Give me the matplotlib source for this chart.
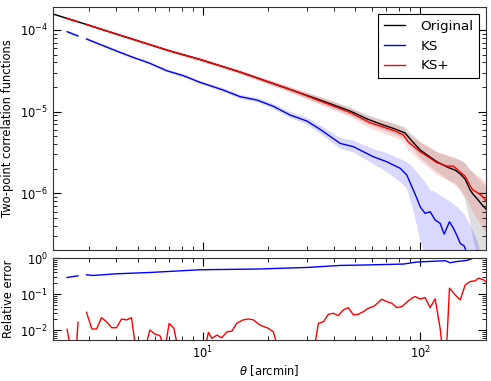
import numpy as np
import matplotlib
matplotlib.use("Agg")
import matplotlib.pyplot as plt

nan = np.nan

# original (black)
theta_orig = [2.04, 2.71, 3.73, 5.13, 7.05, 9.69, 14.8, 25.2, 35.7, 47.6,
              57.0, 67.5, 76.7, 85.3, 89.9, 100, 111, 120, 135, 145,
              153, 161, 170, 175, 185, 195, 201]
xi_orig = [1.57e-4, 1.24e-4, 9.45e-5, 7.23e-5, 5.53e-5, 4.36e-5, 3.06e-5, 1.87e-5, 1.35e-5, 1.02e-5,
           8.15e-6, 6.88e-6, 6.14e-6, 5.48e-6, 4.63e-6, 3.40e-6, 2.79e-6, 2.42e-6, 2.07e-6, 1.93e-6,
           1.73e-6, 1.50e-6, 1.10e-6, 9.83e-7, 8.30e-7, 7.01e-7, 6.44e-7]
xi_orig_hi = [1.61e-4, 1.27e-4, 9.72e-5, 7.48e-5, 5.72e-5, 4.54e-5, 3.21e-5, 2.01e-5, 1.49e-5, 1.14e-5,
              9.24e-6, 7.91e-6, 7.17e-6, 6.50e-6, 5.56e-6, 4.26e-6, 3.59e-6, 3.21e-6, 2.87e-6, 2.71e-6,
              2.56e-6, 2.36e-6, 1.93e-6, 1.78e-6, 1.54e-6, 1.34e-6, 1.23e-6]
xi_orig_lo = [1.53e-4, 1.20e-4, 9.19e-5, 6.99e-5, 5.35e-5, 4.17e-5, 2.92e-5, 1.74e-5, 1.22e-5, 9.11e-6,
              7.17e-6, 5.97e-6, 5.26e-6, 4.63e-6, 3.86e-6, 2.71e-6, 2.16e-6, 1.83e-6, 1.46e-6, 1.34e-6,
              1.10e-6, 8.30e-7, 4.10e-7, 2.69e-7, 1.53e-7, 1.15e-7, 1.15e-7]

# KS (blue)
theta_ks = [2.37, 2.66, 2.78, 2.91, 3.35, 4.00, 4.76, 5.70, 6.80, 8.12,
            9.69, 12.4, 14.8, 17.7, 21.0, 25.2, 30.1, 34.6, 42.8, 49.3,
            60.9, 70.2, 80.9, 86.8, 91.6, 96.6, 100, 105.4, 111.2, 117.3,
            123.6, 129.0, 136.5, 142.4, 148.6, 152.9, 159.5, 170.0, 183, 195]
xi_ks = [9.53e-5, 8.44e-5, nan, 7.76e-5, 6.68e-5, 5.53e-5, 4.63e-5, 3.91e-5, 3.18e-5, 2.76e-5,
         2.29e-5, 1.84e-5, 1.53e-5, 1.39e-5, 1.17e-5, 9.11e-6, 7.69e-6, 6.09e-6, 4.10e-6, 3.73e-6,
         2.81e-6, 2.44e-6, 2.03e-6, 1.68e-6, 1.21e-6, 8.71e-7, 6.87e-7, 5.71e-7, 5.97e-7, 4.72e-7,
         4.31e-7, 3.18e-7, 4.50e-7, 3.74e-7, 2.95e-7, 2.45e-7, 2.27e-7, 1.45e-7, 1.0e-7, 8e-8]
xi_ks_hi = [9.86e-5, 8.74e-5, nan, 8.03e-5, 6.93e-5, 5.74e-5, 4.81e-5, 4.06e-5, 3.30e-5, 2.88e-5,
            2.39e-5, 1.94e-5, 1.61e-5, 1.48e-5, 1.26e-5, 9.92e-6, 8.49e-6, 6.87e-6, 4.77e-6, 4.44e-6,
            3.50e-6, 3.12e-6, 2.64e-6, 2.42e-6, 2.16e-6, 1.83e-6, 1.63e-6, 1.38e-6, 1.10e-6, 1.04e-6,
            9.56e-7, 8.79e-7, 8.07e-7, 7.42e-7, 6.82e-7, 6.26e-7, 5.60e-7, 4.10e-7, 2.69e-7, 1.45e-7]
xi_ks_lo = [9.19e-5, 8.16e-5, nan, 7.50e-5, 6.44e-5, 5.33e-5, 4.47e-5, 3.77e-5, 3.05e-5, 2.64e-5,
            2.19e-5, 1.75e-5, 1.44e-5, 1.31e-5, 1.09e-5, 8.37e-6, 6.97e-6, 5.41e-6, 3.54e-6, 3.17e-6,
            2.29e-6, 1.83e-6, 1.38e-6, 1.16e-6, 7.21e-7, 4.10e-7, 2.69e-7, 1.76e-7, 1.53e-7, 1.53e-7,
            1.33e-7, 1.15e-7, 1.15e-7, 1.15e-7, 1.15e-7, 1.15e-7, 1.15e-7, 8.7e-8, 8e-8, 6.6e-8]

# KS+ (red)
theta_ksp = [2.37, 2.66, 2.78, 2.91, 3.73, 5.13, 7.05, 9.69, 14.8, 25.2,
             35.7, 47.6, 58.8, 67.5, 76.7, 83.8, 88.0, 100, 111, 119.4,
             132.8, 142.4, 152.9, 161, 170, 175, 185, 195, 201]
xi_ksp = [1.38e-4, 1.26e-4, nan, 1.17e-4, 9.45e-5, 7.23e-5, 5.53e-5, 4.36e-5, 3.06e-5, 1.87e-5,
          1.31e-5, 9.78e-6, 7.33e-6, 6.50e-6, 5.80e-6, 5.19e-6, 4.29e-6, 3.24e-6, 2.71e-6, 2.38e-6,
          2.16e-6, 2.16e-6, 1.83e-6, 1.63e-6, 1.23e-6, 1.10e-6, 1.01e-6, 9.04e-7, 8.07e-7]
xi_ksp_hi = [1.43e-4, 1.30e-4, nan, 1.21e-4, 9.78e-5, 7.50e-5, 5.74e-5, 4.54e-5, 3.21e-5, 2.01e-5,
             1.47e-5, 1.11e-5, 8.61e-6, 7.80e-6, 6.97e-6, 6.32e-6, 5.33e-6, 4.26e-6, 3.70e-6, 3.21e-6,
             2.95e-6, 2.79e-6, 2.56e-6, 2.36e-6, 1.93e-6, 1.83e-6, 1.63e-6, 1.50e-6, 1.38e-6]
xi_ksp_lo = [1.34e-4, 1.22e-4, nan, 1.13e-4, 9.14e-5, 6.97e-5, 5.33e-5, 4.17e-5, 2.92e-5, 1.74e-5,
             1.17e-5, 8.61e-6, 6.23e-6, 5.41e-6, 4.83e-6, 4.26e-6, 3.45e-6, 2.49e-6, 1.99e-6, 1.68e-6,
             1.46e-6, 1.30e-6, 1.10e-6, 9.29e-7, 7.01e-7, 5.92e-7, 4.72e-7, 3.77e-7, 3.27e-7]

# relative errors
theta_err_ks = [2.37, 2.66, 2.78, 2.91, 3.12, 4.00, 5.70, 9.69, 17.7, 30.1, 42.8,
                54.8, 83.8, 96.6, 111.2, 130.4, 137.5, 147.6, 164.1, 173.1, 185, 201]
err_ks = [0.289, 0.322, nan, 0.344, 0.329, 0.366, 0.398, 0.473, 0.495, 0.548, 0.623,
          0.640, 0.681, 0.774, 0.805, 0.841, 0.740, 0.80, 0.858, 0.956, 1.3, 1.5]

theta_err_ksp = [2.37, 2.49, 2.60, 2.66, 2.78, 2.91, 3.08, 3.24, 3.41, 3.60,
                 3.80, 4.00, 4.22, 4.45, 4.69, 4.91, 5.18, 5.40, 5.70, 6.01,
                 6.34, 6.68, 6.99, 7.35, 7.69, 8.71, 10.2, 10.6, 11.0, 11.6,
                 12.2, 12.9, 13.6, 14.3, 15.3, 16.2, 17.1, 18.3, 20.0, 21.1,
                 22.2, 26.5, 32.5, 34.0, 35.9, 37.8, 39.9, 42.0, 44.3, 46.7,
                 49.3, 51.9, 54.8, 57.8, 60.9, 63.6, 66.6, 70.2, 74.1, 78.1,
                 82.4, 86.8, 91.6, 94.8, 100, 105.4, 111.2, 117.3, 123.6, 127.6,
                 131.8, 136.5, 145.0, 152.9, 161.3, 170.0, 179.2, 185.6, 195.7, 201]
err_ksp = [0.0107, 0.002, 0.002, 0.0167, nan, 0.0316, 0.0109, 0.0109, 0.0224, 0.0173,
           0.0118, 0.0118, 0.0206, 0.0194, 0.0224, 0.003, 0.002, 0.003, 0.0102, 0.0079,
           0.0071, 0.003, 0.0156, 0.0114, 0.003, 0.002, 0.003, 0.0088, 0.006, 0.0074,
           0.0062, 0.0091, 0.0095, 0.0156, 0.0194, 0.0206, 0.0194, 0.0140, 0.0114, 0.0091,
           0.003, 0.001, 0.003, 0.0156, 0.0173, 0.0278, 0.0297, 0.0255, 0.0366, 0.0425,
           0.0266, 0.0278, 0.0329, 0.0408, 0.0453, 0.0562, 0.0726, 0.0622, 0.0562, 0.0425,
           0.0453, 0.060, 0.0774, 0.0858, 0.074, 0.0805, 0.0425, 0.074, 0.0114, 0.002,
           0.002, 0.147, 0.0957, 0.0695, 0.181, 0.224, 0.234, 0.278, 0.250, 0.22]

plt.rcParams["font.family"] = "DejaVu Sans"
plt.rcParams["font.size"] = 8
plt.rcParams["mathtext.fontset"] = "dejavusans"

fig = plt.figure(figsize=(4.91, 3.81), dpi=100)
ax = fig.add_axes([0.1079, 0.3438, 0.8819, 0.6378])
ax2 = fig.add_axes([0.1079, 0.1076, 0.8819, 0.2152])

ax.fill_between(theta_orig, xi_orig_lo, xi_orig_hi, color="k", alpha=0.13, lw=0)
ax.fill_between(theta_ks, xi_ks_lo, xi_ks_hi, color="b", alpha=0.15, lw=0)
ax.fill_between(theta_ksp, xi_ksp_lo, xi_ksp_hi, color="r", alpha=0.13, lw=0)
ax.plot(theta_orig, xi_orig, color="k", lw=1, label="Original")
ax.plot(theta_ks, xi_ks, color="b", lw=1, label="KS")
ax.plot(theta_ksp, xi_ksp, color="r", lw=1, label="KS+")

ax2.plot(theta_err_ks, err_ks, color="b", lw=1)
ax2.plot(theta_err_ksp, err_ksp, color="r", lw=1)

for a in (ax, ax2):
    a.set_xscale("log")
    a.set_yscale("log")
    a.set_xlim(2.04, 201)
    a.tick_params(which="both", direction="in", top=True, right=True, labelsize=8.3)
    a.tick_params(which="major", length=5.8)
    a.tick_params(which="minor", length=2.9)
    for s in a.spines.values():
        s.set_color("#333333")

ax.set_ylim(2.03e-7, 1.91e-4)
ax.tick_params(labelbottom=False)
ax.set_ylabel("Two-point correlation functions", fontsize=8.3)
ax2.set_ylim(5.4e-3, 1)
ax2.set_ylabel("Relative error", fontsize=8.3)
ax2.set_xlabel(r"$\theta$ [arcmin]", fontsize=8.3, labelpad=1.5)

leg = ax.legend(loc="upper right", fontsize=9.7, fancybox=False, framealpha=1,
                edgecolor="k", handlelength=1.55, handletextpad=1.1,
                borderpad=0.45, borderaxespad=0.5)
leg.get_frame().set_linewidth(0.8)

fig.savefig("out.png", dpi=100)
